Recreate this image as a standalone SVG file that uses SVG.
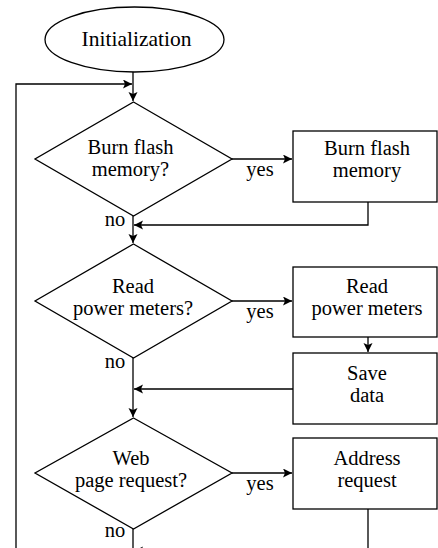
<svg xmlns="http://www.w3.org/2000/svg" width="438" height="548" viewBox="0 0 438 548" font-family="'Liberation Serif', 'Times New Roman', serif">
<style>
.s{fill:#fff;stroke:#000;stroke-width:1.3}
.c{fill:none;stroke:#000;stroke-width:1.3}
text{font-family:'Liberation Serif','Times New Roman',serif;font-size:20.5px;fill:#000;text-anchor:middle}
</style>
<defs>
<marker id="a" markerUnits="userSpaceOnUse" markerWidth="10" markerHeight="10" refX="9" refY="4.5" orient="auto">
<path d="M0,0 L9,4.5 L0,9 L2,4.5 z" fill="#000"/>
</marker>
</defs>
<g id="connectors">
<path class="c" d="M133,72 V101" marker-end="url(#a)"/>
<path class="c" d="M16,548 V84 H132" marker-end="url(#a)"/>
<path class="c" d="M232,159 H292" marker-end="url(#a)"/>
<path class="c" d="M368,202 V225 H134" marker-end="url(#a)"/>
<path class="c" d="M133,216 V243" marker-end="url(#a)"/>
<path class="c" d="M232,301 H292" marker-end="url(#a)"/>
<path class="c" d="M368,337 V352" marker-end="url(#a)"/>
<path class="c" d="M293,389 H134" marker-end="url(#a)"/>
<path class="c" d="M133,358 V417" marker-end="url(#a)"/>
<path class="c" d="M232,473 H292" marker-end="url(#a)"/>
<path class="c" d="M368,509 V551 H134" marker-end="url(#a)"/>
<path class="c" d="M133,529 V560"/>
<text x="260" y="176">yes</text>
<text x="260" y="318">yes</text>
<text x="260" y="490">yes</text>
<text x="115" y="226">no</text>
<text x="115" y="368">no</text>
<text x="115" y="537">no</text>
</g>
<g id="init">
<ellipse class="s" cx="134.5" cy="39.5" rx="89.5" ry="32.5"/>
<text x="136.5" y="46" style="font-size:21.5px">Initialization</text>
</g>
<g id="d1">
<polygon class="s" points="133.5,102 232,159 133.5,216 35,159"/>
<text x="130.5" y="154">Burn flash</text>
<text x="130.5" y="176">memory?</text>
</g>
<g id="b1">
<rect class="s" x="293" y="131" width="144" height="71"/>
<text x="367" y="155">Burn flash</text>
<text x="367" y="177">memory</text>
</g>
<g id="d2">
<polygon class="s" points="133.5,244 232,301 133.5,358 35,301"/>
<text x="133" y="293">Read</text>
<text x="133" y="315">power meters?</text>
</g>
<g id="b2">
<rect class="s" x="293" y="267" width="144" height="70"/>
<text x="367" y="293">Read</text>
<text x="367" y="315">power meters</text>
</g>
<g id="b3">
<rect class="s" x="293" y="353" width="144" height="71"/>
<text x="367" y="380">Save</text>
<text x="367" y="402">data</text>
</g>
<g id="d3">
<polygon class="s" points="133.5,418 232,473 133.5,529 35,473"/>
<text x="131" y="465">Web</text>
<text x="131" y="487">page request?</text>
</g>
<g id="b4">
<rect class="s" x="293" y="438" width="144" height="71"/>
<text x="367" y="465">Address</text>
<text x="367" y="487">request</text>
</g>
</svg>
